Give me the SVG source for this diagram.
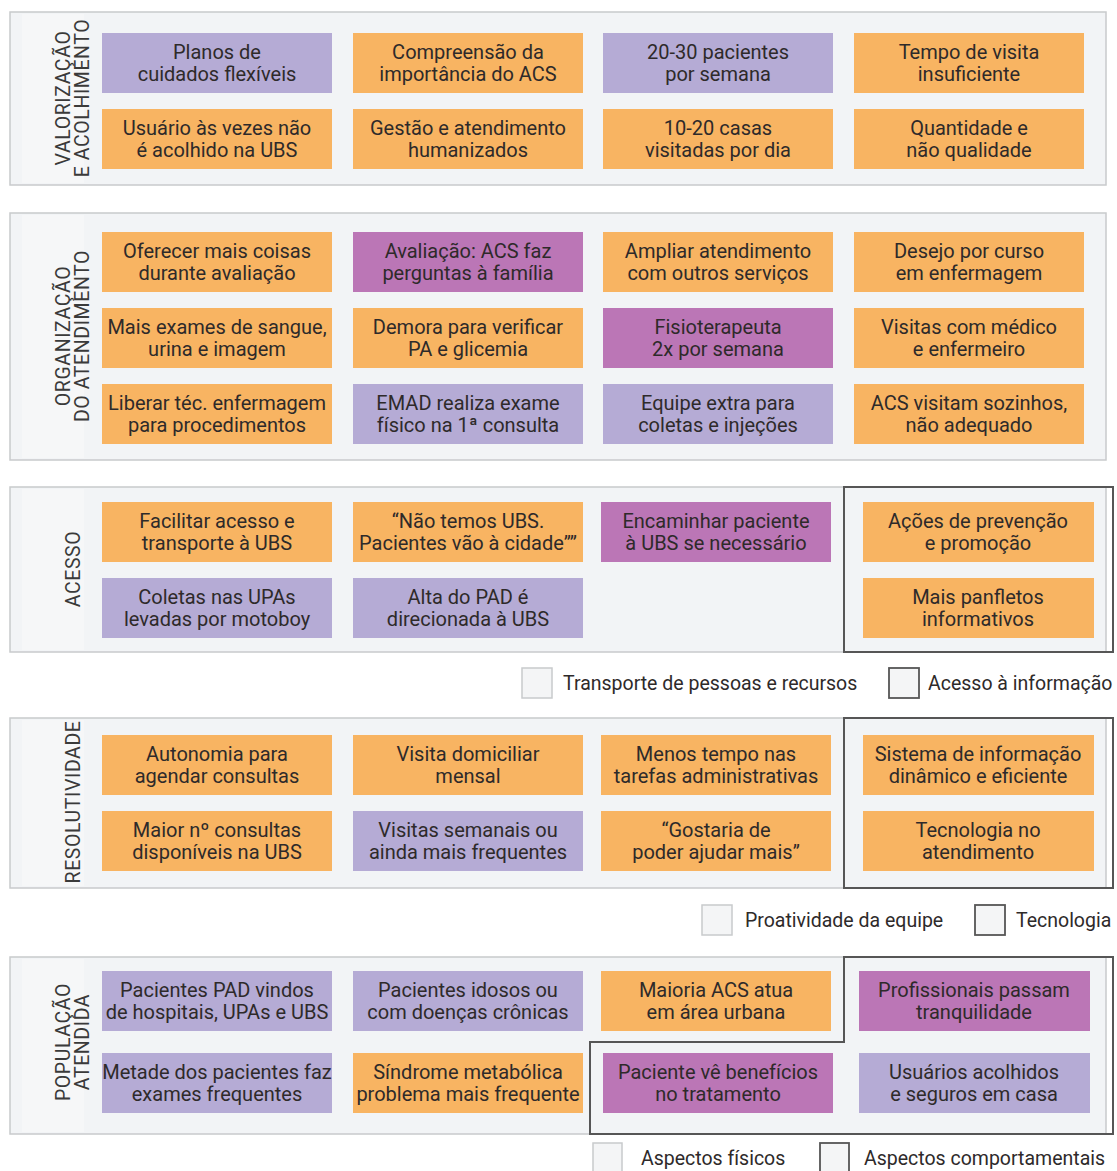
<svg xmlns="http://www.w3.org/2000/svg" width="1117" height="1171" viewBox="0 0 1117 1171">
<style>
.sec{fill:#F2F4F6;stroke:#C8CACC;stroke-width:1.5}
.band{fill:#F6F7F8}
.grp{fill:none;stroke:#565656;stroke-width:2}
.o{fill:#F8B462}
.l{fill:#B5ABD5}
.m{fill:#BB76B6}
.t{font-family:Roboto,"Liberation Sans",sans-serif;font-size:20px;fill:#2E2A2A;text-anchor:middle}
.lab{font-family:Roboto,"Liberation Sans",sans-serif;font-size:19.5px;fill:#3A3A3A;text-anchor:middle;letter-spacing:0.6px}
.lg{font-family:Roboto,"Liberation Sans",sans-serif;font-size:19.5px;fill:#2E2A2A}
.sq1{fill:#F4F5F6;stroke:#C8CACC;stroke-width:1.5}
.sq2{fill:#F4F5F6;stroke:#565656;stroke-width:1.8}
</style>
<rect width="1117" height="1171" fill="#FFFFFF"/>

<!-- Section 1 -->
<g id="sec1">
<rect class="sec" x="10" y="12" width="1096" height="173"/>
<rect class="band" x="22" y="14" width="62" height="169"/>
<text class="lab" transform="translate(72,98) rotate(-90)"><tspan x="0" y="-2">VALORIZAÇÃO</tspan><tspan x="0" y="17">E ACOLHIMENTO</tspan></text>
</g>
<g id="n1_1"><rect class="l" x="102" y="33" width="230" height="60"/><text class="t" x="217" y="59"><tspan x="217">Planos de</tspan><tspan x="217" dy="22">cuidados flexíveis</tspan></text></g>
<g id="n1_2"><rect class="o" x="353" y="33" width="230" height="60"/><text class="t" x="468" y="59"><tspan x="468">Compreensão da</tspan><tspan x="468" dy="22">importância do ACS</tspan></text></g>
<g id="n1_3"><rect class="l" x="603" y="33" width="230" height="60"/><text class="t" x="718" y="59"><tspan x="718">20-30 pacientes</tspan><tspan x="718" dy="22">por semana</tspan></text></g>
<g id="n1_4"><rect class="o" x="854" y="33" width="230" height="60"/><text class="t" x="969" y="59"><tspan x="969">Tempo de visita</tspan><tspan x="969" dy="22">insuficiente</tspan></text></g>
<g id="n1_5"><rect class="o" x="102" y="109" width="230" height="60"/><text class="t" x="217" y="135"><tspan x="217">Usuário às vezes não</tspan><tspan x="217" dy="22">é acolhido na UBS</tspan></text></g>
<g id="n1_6"><rect class="o" x="353" y="109" width="230" height="60"/><text class="t" x="468" y="135"><tspan x="468">Gestão e atendimento</tspan><tspan x="468" dy="22">humanizados</tspan></text></g>
<g id="n1_7"><rect class="o" x="603" y="109" width="230" height="60"/><text class="t" x="718" y="135"><tspan x="718">10-20 casas</tspan><tspan x="718" dy="22">visitadas por dia</tspan></text></g>
<g id="n1_8"><rect class="o" x="854" y="109" width="230" height="60"/><text class="t" x="969" y="135"><tspan x="969">Quantidade e</tspan><tspan x="969" dy="22">não qualidade</tspan></text></g>

<!-- Section 2 -->
<g id="sec2">
<rect class="sec" x="10" y="213" width="1096" height="247"/>
<rect class="band" x="22" y="215" width="62" height="243"/>
<text class="lab" transform="translate(72,336) rotate(-90)"><tspan x="0" y="-2">ORGANIZAÇÃO</tspan><tspan x="0" y="17">DO ATENDIMENTO</tspan></text>
</g>
<g id="n2_1"><rect class="o" x="102" y="232" width="230" height="60"/><text class="t" x="217" y="258"><tspan x="217">Oferecer mais coisas</tspan><tspan x="217" dy="22">durante avaliação</tspan></text></g>
<g id="n2_2"><rect class="m" x="353" y="232" width="230" height="60"/><text class="t" x="468" y="258"><tspan x="468">Avaliação: ACS faz</tspan><tspan x="468" dy="22">perguntas à família</tspan></text></g>
<g id="n2_3"><rect class="o" x="603" y="232" width="230" height="60"/><text class="t" x="718" y="258"><tspan x="718">Ampliar atendimento</tspan><tspan x="718" dy="22">com outros serviços</tspan></text></g>
<g id="n2_4"><rect class="o" x="854" y="232" width="230" height="60"/><text class="t" x="969" y="258"><tspan x="969">Desejo por curso</tspan><tspan x="969" dy="22">em enfermagem</tspan></text></g>
<g id="n2_5"><rect class="o" x="102" y="308" width="230" height="60"/><text class="t" x="217" y="334"><tspan x="217">Mais exames de sangue,</tspan><tspan x="217" dy="22">urina e imagem</tspan></text></g>
<g id="n2_6"><rect class="o" x="353" y="308" width="230" height="60"/><text class="t" x="468" y="334"><tspan x="468">Demora para verificar</tspan><tspan x="468" dy="22">PA e glicemia</tspan></text></g>
<g id="n2_7"><rect class="m" x="603" y="308" width="230" height="60"/><text class="t" x="718" y="334"><tspan x="718">Fisioterapeuta</tspan><tspan x="718" dy="22">2x por semana</tspan></text></g>
<g id="n2_8"><rect class="o" x="854" y="308" width="230" height="60"/><text class="t" x="969" y="334"><tspan x="969">Visitas com médico</tspan><tspan x="969" dy="22">e enfermeiro</tspan></text></g>
<g id="n2_9"><rect class="o" x="102" y="384" width="230" height="60"/><text class="t" x="217" y="410"><tspan x="217">Liberar téc. enfermagem</tspan><tspan x="217" dy="22">para procedimentos</tspan></text></g>
<g id="n2_10"><rect class="l" x="353" y="384" width="230" height="60"/><text class="t" x="468" y="410"><tspan x="468">EMAD realiza exame</tspan><tspan x="468" dy="22">físico na 1ª consulta</tspan></text></g>
<g id="n2_11"><rect class="l" x="603" y="384" width="230" height="60"/><text class="t" x="718" y="410"><tspan x="718">Equipe extra para</tspan><tspan x="718" dy="22">coletas e injeções</tspan></text></g>
<g id="n2_12"><rect class="o" x="854" y="384" width="230" height="60"/><text class="t" x="969" y="410"><tspan x="969">ACS visitam sozinhos,</tspan><tspan x="969" dy="22">não adequado</tspan></text></g>

<!-- Section 3 -->
<g id="sec3">
<rect class="sec" x="10" y="487" width="1096" height="165"/>
<rect class="band" x="22" y="489" width="62" height="161"/>
<text class="lab" transform="translate(72,569) rotate(-90)"><tspan x="0" y="8">ACESSO</tspan></text>
</g>
<g id="n3_1"><rect class="o" x="102" y="502" width="230" height="60"/><text class="t" x="217" y="528"><tspan x="217">Facilitar acesso e</tspan><tspan x="217" dy="22">transporte à UBS</tspan></text></g>
<g id="n3_2"><rect class="o" x="353" y="502" width="230" height="60"/><text class="t" x="468" y="528"><tspan x="468">“Não temos UBS.</tspan><tspan x="468" dy="22">Pacientes vão à cidade””</tspan></text></g>
<g id="n3_3"><rect class="m" x="601" y="502" width="230" height="60"/><text class="t" x="716" y="528"><tspan x="716">Encaminhar paciente</tspan><tspan x="716" dy="22">à UBS se necessário</tspan></text></g>
<g id="n3_4"><rect class="o" x="863" y="502" width="231" height="60"/><text class="t" x="978" y="528"><tspan x="978">Ações de prevenção</tspan><tspan x="978" dy="22">e promoção</tspan></text></g>
<g id="n3_5"><rect class="l" x="102" y="578" width="230" height="60"/><text class="t" x="217" y="604"><tspan x="217">Coletas nas UPAs</tspan><tspan x="217" dy="22">levadas por motoboy</tspan></text></g>
<g id="n3_6"><rect class="l" x="353" y="578" width="230" height="60"/><text class="t" x="468" y="604"><tspan x="468">Alta do PAD é</tspan><tspan x="468" dy="22">direcionada à UBS</tspan></text></g>
<g id="n3_7"><rect class="o" x="863" y="578" width="231" height="60"/><text class="t" x="978" y="604"><tspan x="978">Mais panfletos</tspan><tspan x="978" dy="22">informativos</tspan></text></g>

<!-- Section 4 -->
<g id="sec4">
<rect class="sec" x="10" y="718" width="1096" height="170"/>
<rect class="band" x="22" y="720" width="62" height="166"/>
<text class="lab" transform="translate(72,802) rotate(-90)"><tspan x="0" y="8">RESOLUTIVIDADE</tspan></text>
</g>
<g id="n4_1"><rect class="o" x="102" y="735" width="230" height="60"/><text class="t" x="217" y="761"><tspan x="217">Autonomia para</tspan><tspan x="217" dy="22">agendar consultas</tspan></text></g>
<g id="n4_2"><rect class="o" x="353" y="735" width="230" height="60"/><text class="t" x="468" y="761"><tspan x="468">Visita domiciliar</tspan><tspan x="468" dy="22">mensal</tspan></text></g>
<g id="n4_3"><rect class="o" x="601" y="735" width="230" height="60"/><text class="t" x="716" y="761"><tspan x="716">Menos tempo nas</tspan><tspan x="716" dy="22">tarefas administrativas</tspan></text></g>
<g id="n4_4"><rect class="o" x="863" y="735" width="231" height="60"/><text class="t" x="978" y="761"><tspan x="978">Sistema de informação</tspan><tspan x="978" dy="22">dinâmico e eficiente</tspan></text></g>
<g id="n4_5"><rect class="o" x="102" y="811" width="230" height="60"/><text class="t" x="217" y="837"><tspan x="217">Maior nº consultas</tspan><tspan x="217" dy="22">disponíveis na UBS</tspan></text></g>
<g id="n4_6"><rect class="l" x="353" y="811" width="230" height="60"/><text class="t" x="468" y="837"><tspan x="468">Visitas semanais ou</tspan><tspan x="468" dy="22">ainda mais frequentes</tspan></text></g>
<g id="n4_7"><rect class="o" x="601" y="811" width="230" height="60"/><text class="t" x="716" y="837"><tspan x="716">“Gostaria de</tspan><tspan x="716" dy="22">poder ajudar mais”</tspan></text></g>
<g id="n4_8"><rect class="o" x="863" y="811" width="231" height="60"/><text class="t" x="978" y="837"><tspan x="978">Tecnologia no</tspan><tspan x="978" dy="22">atendimento</tspan></text></g>

<!-- Section 5 -->
<g id="sec5">
<rect class="sec" x="10" y="957" width="1096" height="177"/>
<rect class="band" x="22" y="959" width="62" height="173"/>
<text class="lab" transform="translate(72,1042) rotate(-90)"><tspan x="0" y="-2">POPULAÇÃO</tspan><tspan x="0" y="17">ATENDIDA</tspan></text>
</g>
<g id="n5_1"><rect class="l" x="102" y="971" width="230" height="60"/><text class="t" x="217" y="997"><tspan x="217">Pacientes PAD vindos</tspan><tspan x="217" dy="22">de hospitais, UPAs e UBS</tspan></text></g>
<g id="n5_2"><rect class="l" x="353" y="971" width="230" height="60"/><text class="t" x="468" y="997"><tspan x="468">Pacientes idosos ou</tspan><tspan x="468" dy="22">com doenças crônicas</tspan></text></g>
<g id="n5_3"><rect class="o" x="601" y="971" width="230" height="60"/><text class="t" x="716" y="997"><tspan x="716">Maioria ACS atua</tspan><tspan x="716" dy="22">em área urbana</tspan></text></g>
<g id="n5_4"><rect class="m" x="859" y="971" width="231" height="60"/><text class="t" x="974" y="997"><tspan x="974">Profissionais passam</tspan><tspan x="974" dy="22">tranquilidade</tspan></text></g>
<g id="n5_5"><rect class="l" x="102" y="1053" width="230" height="60"/><text class="t" x="217" y="1079"><tspan x="217">Metade dos pacientes faz</tspan><tspan x="217" dy="22">exames frequentes</tspan></text></g>
<g id="n5_6"><rect class="o" x="353" y="1053" width="230" height="60"/><text class="t" x="468" y="1079"><tspan x="468">Síndrome metabólica</tspan><tspan x="468" dy="22">problema mais frequente</tspan></text></g>
<g id="n5_7"><rect class="m" x="603" y="1053" width="230" height="60"/><text class="t" x="718" y="1079"><tspan x="718">Paciente vê benefícios</tspan><tspan x="718" dy="22">no tratamento</tspan></text></g>
<g id="n5_8"><rect class="l" x="859" y="1053" width="231" height="60"/><text class="t" x="974" y="1079"><tspan x="974">Usuários acolhidos</tspan><tspan x="974" dy="22">e seguros em casa</tspan></text></g>

<!-- Grouping outlines -->
<g id="connectors">
<rect class="grp" x="844" y="487" width="269" height="165"/>
<rect class="grp" x="844" y="718" width="269" height="170"/>
<path class="grp" d="M844,957 H1113 V1134 H590 V1042 H844 Z"/>
</g>

<!-- Legends -->
<g id="legend1">
<rect class="sq1" x="522" y="668" width="30" height="30"/>
<text class="lg" x="563" y="690">Transporte de pessoas e recursos</text>
<rect class="sq2" x="889" y="668" width="30" height="30"/>
<text class="lg" x="928" y="690">Acesso à informação</text>
</g>
<g id="legend2">
<rect class="sq1" x="702" y="905" width="30" height="30"/>
<text class="lg" x="745" y="927">Proatividade da equipe</text>
<rect class="sq2" x="975" y="905" width="30" height="30"/>
<text class="lg" x="1016" y="927">Tecnologia</text>
</g>
<g id="legend3">
<rect class="sq1" x="593" y="1143" width="29" height="30"/>
<text class="lg" x="641" y="1165">Aspectos físicos</text>
<rect class="sq2" x="820" y="1143" width="29" height="30"/>
<text class="lg" x="864" y="1165">Aspectos comportamentais</text>
</g>
</svg>
